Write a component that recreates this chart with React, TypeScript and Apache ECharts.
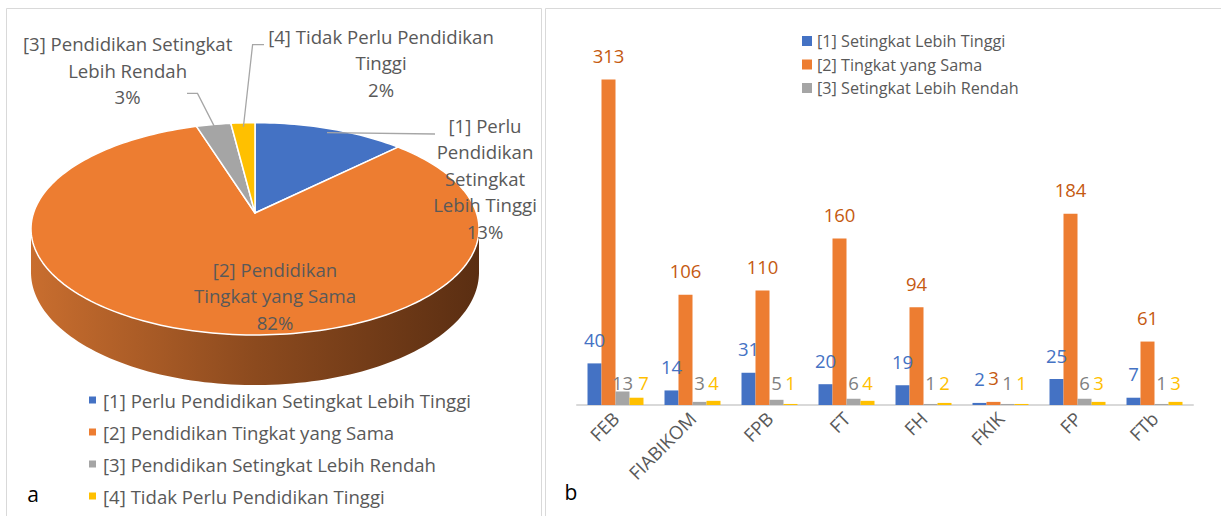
import React, { useEffect, useRef } from "react";
import * as echarts from "echarts";

// ---------- data ----------
const categories = ["FEB", "FIABIKOM", "FPB", "FT", "FH", "FKIK", "FP", "FTb"];
const barSeriesNames = [
  "[1] Setingkat Lebih Tinggi",
  "[2] Tingkat yang Sama",
  "[3] Setingkat Lebih Rendah",
  "[4] Tidak Perlu",
];
const higherValues = [40, 14, 31, 20, 19, 2, 25, 7];
const sameValues = [313, 106, 110, 160, 94, 3, 184, 61];
const lowerValues = [13, 3, 5, 6, 1, 1, 6, 1];
const noNeedValues = [7, 4, 1, 4, 2, 1, 3, 3];

const pieNames = [
  "[1] Perlu Pendidikan Setingkat Lebih Tinggi",
  "[2] Pendidikan Tingkat yang Sama",
  "[3] Pendidikan Setingkat Lebih Rendah",
  "[4] Tidak Perlu Pendidikan Tinggi",
];
const pieLabelLines = [
  ["[1] Perlu", "Pendidikan", "Setingkat", "Lebih Tinggi"],
  ["[2] Pendidikan", "Tingkat yang Sama"],
  ["[3] Pendidikan Setingkat", "Lebih Rendah"],
  ["[4] Tidak Perlu Pendidikan", "Tinggi"],
];
const pieValues = [158, 1031, 36, 25];

// ---------- styles / layout ----------
const FONT = '"Open Sans", Lato, sans-serif';
const TEXT = "#595959";
const COLORS = ["#4472c4", "#ed7d31", "#a5a5a5", "#ffc000"];
const LABEL_COLORS = ["#4472c4", "#c55a11", "#7f7f7f", "#ffc000"];
// manual label nudges (series index, category index, [dx, dy])
const labelNudges: [number, number, number[]][] = [[3, 0, [7, 0]]];

const PIE = { cx: 255, cy: 213, A: 221.5, B: 103.8, k: 0.149, D: 42.6 };
const pieLabelLayout = [
  { x: 485, y: 112, leader: [[435, 134]] },
  { x: 275, y: 256, leader: [] },
  { x: 127.6, y: 30.5, leader: [[187, 93.4], [197.5, 93.4]] },
  { x: 381, y: 23, leader: [[264, 44.7], [252.6, 44.7]] },
];

function proj(theta: number, r = 1, depth = 0): number[] {
  const u = Math.sin(theta) * r;
  const v = -Math.cos(theta) * r;
  const w = 1 - PIE.k * v;
  return [PIE.cx + (PIE.A * u) / w, PIE.cy + (PIE.B * v + depth) / w];
}

const TOTAL = pieValues.reduce((a, b) => a + b, 0);
const startAngles: number[] = [];
{
  let acc = 0;
  pieValues.forEach((v) => {
    startAngles.push((acc / TOTAL) * Math.PI * 2);
    acc += v;
  });
}
const FRONT0 = Math.acos(-PIE.k);
const FRONT1 = Math.PI * 2 - FRONT0;

function arcPoints(a: number, b: number, r: number, depth: number) {
  const pts: number[][] = [];
  const n = Math.max(2, Math.ceil(((b - a) / (Math.PI * 2)) * 240));
  for (let i = 0; i <= n; i++) pts.push(proj(a + ((b - a) * i) / n, r, depth));
  return pts;
}

function makePieSeries(i: number) {
  return {
    type: "custom",
    name: pieNames[i],
    coordinateSystem: "none",
    itemStyle: { color: COLORS[i] },
    data: [pieValues[i]],
    silent: true,
    z: 2,
    renderItem: (params: any, api: any) => {
      const value = api.value(0);
      const a0 = startAngles[i];
      const a1 = a0 + (value / TOTAL) * Math.PI * 2;
      const children: any[] = [];
      const s = Math.max(a0, FRONT0);
      const e = Math.min(a1, FRONT1);
      if (e > s) {
        const pts = arcPoints(s, e, 1, 0).concat(arcPoints(s, e, 1, PIE.D).reverse());
        children.push({
          type: "polygon",
          shape: { points: pts },
          style: {
            fill: {
              type: "linear",
              x: PIE.cx - 226,
              y: 0,
              x2: PIE.cx + 226,
              y2: 0,
              global: true,
              colorStops: [
                { offset: 0, color: "#c96e2f" },
                { offset: 0.5, color: "#8c4a1e" },
                { offset: 1, color: "#5a2e12" },
              ],
            },
          },
          z2: 0,
        });
      }
      const top = [[PIE.cx, PIE.cy]].concat(arcPoints(a0, a1, 1, 0));
      children.push({
        type: "polygon",
        shape: { points: top },
        style: { fill: COLORS[i], stroke: "#ffffff", lineWidth: 1.5, lineJoin: "round" },
        z2: 1,
      });
      const lay = pieLabelLayout[i];
      if (lay.leader.length) {
        const mid = (a0 + a1) / 2;
        children.push({
          type: "polyline",
          shape: { points: lay.leader.concat([proj(mid, 0.95, 0)]) },
          style: { stroke: "#a6a6a6", lineWidth: 1.3, fill: "none" },
          z2: 3,
        });
      }
      const pct = Math.round((value / TOTAL) * 100) + "%";
      children.push({
        type: "text",
        x: lay.x,
        y: lay.y,
        style: {
          text: pieLabelLines[i].concat([pct]).join("\n"),
          fill: TEXT,
          fontSize: 18.6,
          fontFamily: FONT,
          lineHeight: 26.5,
          align: "center",
          verticalAlign: "top",
        },
        z2: 5,
      });
      return { type: "group", children };
    },
  };
}

const barValueSets = [higherValues, sameValues, lowerValues, noNeedValues];

function makeBarSeries(i: number) {
  const small = i >= 2;
  const data = barValueSets[i].map((v, j) => {
    const nudge = labelNudges.find((n) => n[0] === i && n[1] === j);
    return nudge ? { value: v, label: { offset: nudge[2] } } : v;
  });
  return {
    type: "bar",
    name: barSeriesNames[i],
    data,
    barWidth: 14,
    barGap: "0%",
    itemStyle: { color: COLORS[i] },
    label: {
      show: true,
      position: small ? "insideBottom" : "top",
      distance: small ? 13 : 14,
      color: LABEL_COLORS[i],
      fontSize: 18.5,
      lineHeight: 20,
      fontFamily: FONT,
    },
  };
}

export default function App() {
  const ref = useRef<HTMLDivElement>(null);
  useEffect(() => {
    if (!ref.current) return;
    const chart = echarts.init(ref.current, null, { renderer: "svg" });
    chart.setOption({
      animation: false,
      backgroundColor: "#ffffff",
      textStyle: { fontFamily: FONT },
      graphic: [
        {
          type: "rect",
          shape: { x: 6.5, y: 8.5, width: 535, height: 520 },
          style: { fill: "none", stroke: "#d9d9d9", lineWidth: 1 },
          z: -1,
        },
        {
          type: "rect",
          shape: { x: 545.5, y: 8.5, width: 690, height: 520 },
          style: { fill: "none", stroke: "#d9d9d9", lineWidth: 1 },
          z: -1,
        },
        {
          type: "text",
          x: 33,
          y: 494,
          style: { text: "a", fill: "#000", fontSize: 21, fontFamily: FONT, align: "center", verticalAlign: "middle" },
        },
        {
          type: "text",
          x: 571,
          y: 492,
          style: { text: "b", fill: "#000", fontSize: 21, fontFamily: FONT, align: "center", verticalAlign: "middle" },
        },
      ],
      legend: [
        {
          data: pieNames,
          orient: "vertical",
          left: 89,
          top: 390,
          padding: 0,
          itemWidth: 7,
          itemHeight: 7,
          itemGap: 12,
          icon: "rect",
          selectedMode: false,
          textStyle: { fontSize: 18.6, color: TEXT, fontFamily: FONT, lineHeight: 20, padding: [0, 0, 0, 2] },
        },
        {
          data: barSeriesNames.slice(0, 3),
          orient: "vertical",
          left: 802,
          top: 31.5,
          padding: 0,
          itemWidth: 10,
          itemHeight: 10,
          itemGap: 4.5,
          icon: "rect",
          selectedMode: false,
          textStyle: { fontSize: 16.2, color: TEXT, fontFamily: FONT, lineHeight: 19 },
        },
      ],
      grid: { left: 577, right: 28, top: 41, bottom: 111, containLabel: false },
      xAxis: {
        type: "category",
        data: categories,
        axisLine: { show: true, lineStyle: { color: "#d9d9d9", width: 2 } },
        axisTick: { show: false },
        axisLabel: { interval: 0, rotate: 45, margin: 10, fontSize: 18.5, color: TEXT, fontFamily: FONT },
      },
      yAxis: { type: "value", min: 0, max: 350, show: false, splitLine: { show: false } },
      series: [0, 1, 2, 3].map(makeBarSeries).concat([0, 1, 2, 3].map(makePieSeries) as any),
    });
    return () => chart.dispose();
  }, []);
  return (
    <div
      ref={ref}
      style={{ position: "fixed", left: 0, top: 0, width: 1221, height: 516, background: "#fff" }}
    />
  );
}
